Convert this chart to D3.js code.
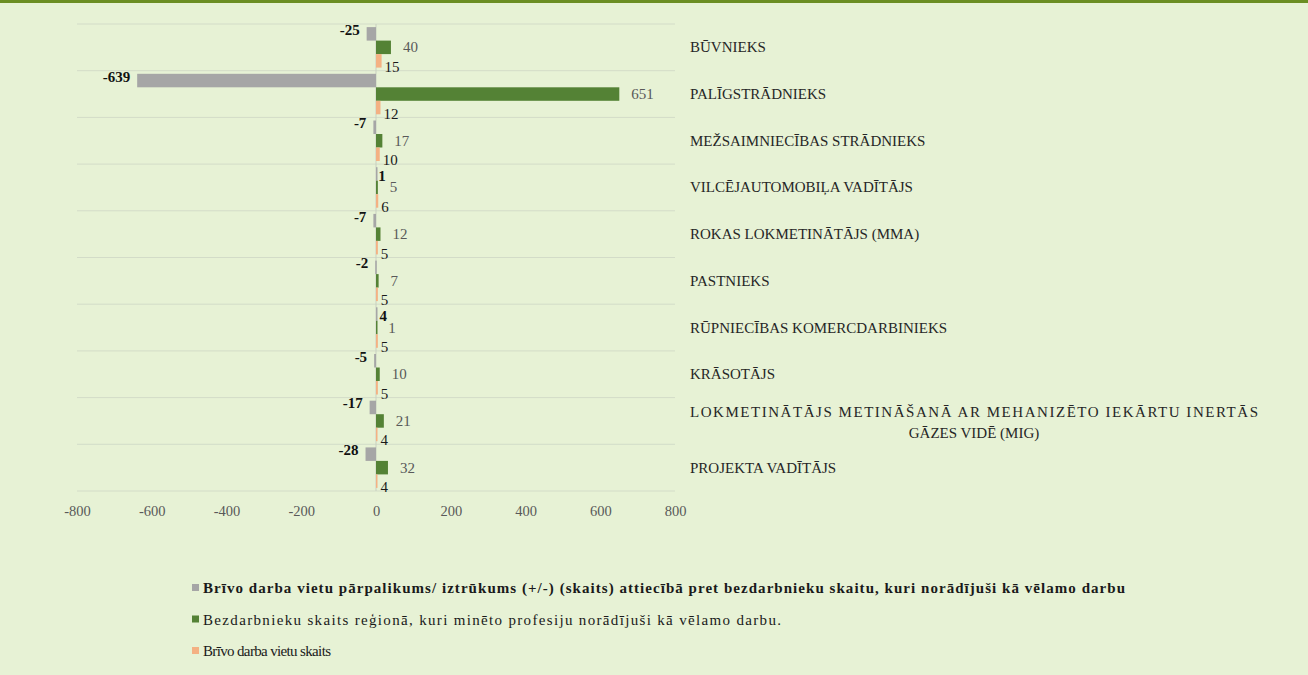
<!DOCTYPE html>
<html>
<head>
<meta charset="utf-8">
<script src="https://cdn.jsdelivr.net/npm/d3@7"></script>
<style>
  body { margin: 0; background: #e7f2d5; }
  svg { display: block; }
  svg text { font-family: "Liberation Serif", "Tinos", "DejaVu Serif", serif; }
</style>
</head>
<body>
<svg width="1308" height="675"></svg>
<script>
// data
const professions = [
  "BŪVNIEKS",
  "PALĪGSTRĀDNIEKS",
  "MEŽSAIMNIECĪBAS STRĀDNIEKS",
  "VILCĒJAUTOMOBIĻA VADĪTĀJS",
  "ROKAS LOKMETINĀTĀJS (MMA)",
  "PASTNIEKS",
  "RŪPNIECĪBAS KOMERCDARBINIEKS",
  "KRĀSOTĀJS",
  "LOKMETINĀTĀJS METINĀŠANĀ AR MEHANIZĒTO IEKĀRTU INERTĀS|GĀZES VIDĒ (MIG)",
  "PROJEKTA VADĪTĀJS"
];
const surplus    = [-25, -639, -7, 1, -7, -2, 4, -5, -17, -28];
const unemployed = [40, 651, 17, 5, 12, 7, 1, 10, 21, 32];
const vacancies  = [15, 12, 10, 6, 5, 5, 5, 5, 4, 4];
const xTicks = [-800, -600, -400, -200, 0, 200, 400, 600, 800];
const legendLabels = [
  "Brīvo darba vietu pārpalikums/ iztrūkums (+/-) (skaits) attiecībā pret bezdarbnieku skaitu, kuri norādījuši kā vēlamo darbu",
  "Bezdarbnieku skaits reģionā, kuri minēto profesiju norādījuši kā vēlamo darbu.",
  "Brīvo darba vietu skaits"
];

const colors = ["#a6a6a6", "#548235", "#f4b183"];
const seriesKeys = ["surplus", "unemployed", "vacancies"];
const serif = "Liberation Serif, Tinos, DejaVu Serif, serif";
// legend text widths as they appear in the original (Word stretched them)
const legendWidths = [922, 578, 128];

const rows = professions.map((p, i) => ({
  name: p, surplus: surplus[i], unemployed: unemployed[i], vacancies: vacancies[i]
}));

const svg = d3.select("svg");

// top border
svg.append("rect").attr("x", 0).attr("y", 0).attr("width", 1308).attr("height", 3).attr("fill", "#6b8e23");

const x = d3.scaleLinear().domain([-800, 800]).range([77, 675]);
const y = d3.scaleBand().domain(professions).range([24, 491]).paddingInner(0).paddingOuter(0);
const ySub = d3.scaleBand().domain(seriesKeys).range([0, y.bandwidth()]).paddingInner(0).paddingOuter(0.23);

// gridlines
const g = svg.append("g");
const gridYs = professions.map(p => y(p)).concat([y.range()[1]]);
g.selectAll("line.grid").data(gridYs).enter().append("line")
  .attr("x1", x(-800)).attr("x2", x(800))
  .attr("y1", d => d).attr("y2", d => d)
  .attr("stroke", "#d3dcc8").attr("stroke-width", 1);

// zero axis
g.append("line")
  .attr("x1", x(0)).attr("x2", x(0))
  .attr("y1", y.range()[0]).attr("y2", y.range()[1])
  .attr("stroke", "#c8cfc0");

// x axis labels
const xAxis = d3.axisBottom(x).tickValues(xTicks).tickSize(0).tickPadding(0).tickFormat(d => String(d));
const xg = g.append("g").attr("transform", "translate(0, 516)").call(xAxis);
xg.attr("font-family", serif);
xg.select(".domain").remove();
xg.selectAll("text")
  .attr("font-family", serif)
  .attr("font-size", "14.5px")
  .attr("fill", "#595959")
  .attr("dy", 0);

// bars
seriesKeys.forEach((key, si) => {
  g.selectAll("rect." + key).data(rows).enter().append("rect")
    .attr("class", key)
    .attr("x", d => x(Math.min(0, d[key])))
    .attr("y", d => y(d.name) + ySub(key))
    .attr("width", d => Math.max(1.5, Math.abs(x(d[key]) - x(0))))
    .attr("height", ySub.bandwidth())
    .attr("fill", colors[si]);
});

// value labels - surplus (bold)
g.selectAll("text.lblS").data(rows).enter().append("text")
  .attr("font-family", serif)
  .attr("x", d => d.surplus < 0 ? x(d.surplus) - 7 : x(d.surplus) + 2)
  .attr("y", d => y(d.name) + ySub("surplus") + ySub.bandwidth() / 2 + (d.surplus < 0 ? 1 : 7))
  .attr("text-anchor", d => d.surplus < 0 ? "end" : "start")
  .attr("font-size", "15px").attr("font-weight", "bold").attr("fill", "#111")
  .text(d => d.surplus);

// value labels - unemployed
g.selectAll("text.lblU").data(rows).enter().append("text")
  .attr("font-family", serif)
  .attr("x", d => x(d.unemployed) + 12)
  .attr("y", d => y(d.name) + ySub("unemployed") + ySub.bandwidth() / 2 + 5)
  .attr("font-size", "15px").attr("fill", "#595959")
  .text(d => d.unemployed);

// value labels - vacancies
g.selectAll("text.lblV").data(rows).enter().append("text")
  .attr("font-family", serif)
  .attr("x", d => x(d.vacancies) + 3)
  .attr("y", d => y(d.name) + ySub("vacancies") + ySub.bandwidth() / 2 + 11)
  .attr("font-size", "15px").attr("fill", "#1a1a1a")
  .text(d => d.vacancies);

// category labels on the right
const catG = g.selectAll("g.cat").data(professions).enter().append("g");
catG.each(function(p) {
  const lines = p.split("|");
  const cy = y(p) + y.bandwidth() / 2;
  const t = d3.select(this).append("text")
    .attr("font-family", serif)
    .attr("font-size", "15px").attr("fill", "#262626");
  if (lines.length === 1) {
    t.attr("x", 690).attr("y", cy + 5).text(p);
  } else {
    t.attr("x", 690).attr("y", cy - 4).text(lines[0])
      .attr("textLength", 568).attr("lengthAdjust", "spacing");
    d3.select(this).append("text")
      .attr("font-family", serif)
      .attr("font-size", "15px").attr("fill", "#262626")
      .attr("x", 690 + 568 / 2).attr("y", cy + 17)
      .attr("text-anchor", "middle")
      .text(lines[1]);
  }
});

// legend
const lg = svg.append("g").attr("transform", "translate(192, 593)");
legendLabels.forEach((label, i) => {
  const row = lg.append("g").attr("transform", `translate(0, ${i * 31.5})`);
  row.append("rect").attr("x", 0).attr("y", -9).attr("width", 7).attr("height", 7).attr("fill", colors[i]);
  row.append("text").attr("x", 11).attr("y", 0)
    .attr("font-family", serif)
    .attr("font-size", "15px")
    .attr("font-weight", i === 0 ? "bold" : "normal")
    .attr("fill", "#1a1a1a")
    .attr("textLength", legendWidths[i])
    .attr("lengthAdjust", "spacing")
    .text(label);
});
</script>
</body>
</html>
